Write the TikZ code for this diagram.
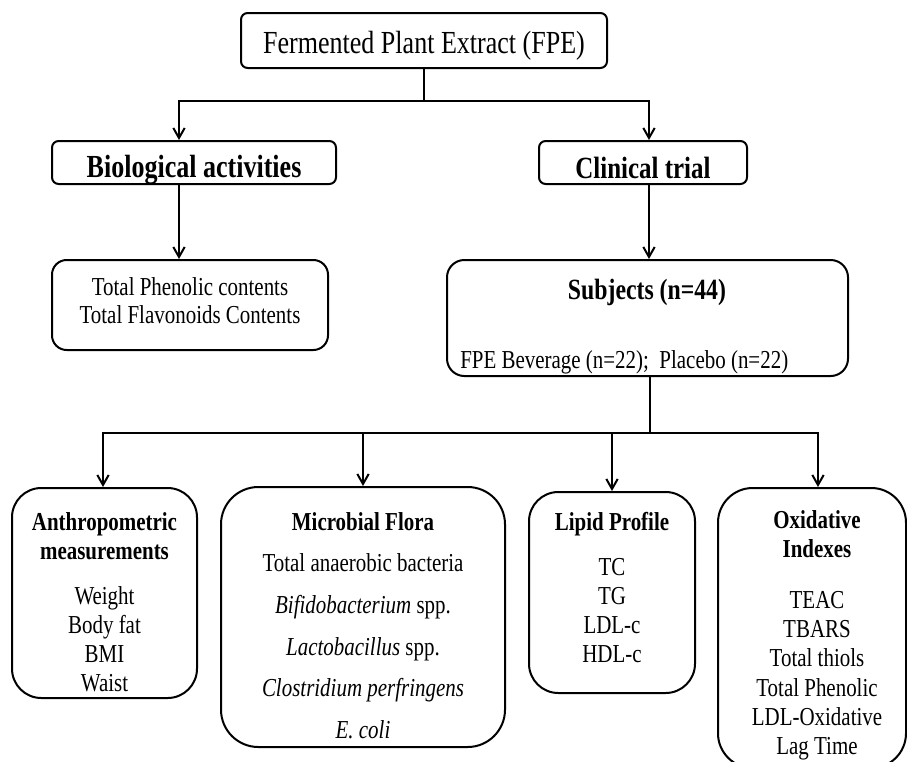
\documentclass[tikz,border=0pt]{standalone}
\usepackage{fontspec}
\setmainfont{Liberation Serif}[FakeStretch=0.81]
\usetikzlibrary{arrows.meta,fit}

\begin{document}
\begin{tikzpicture}[x=0.75pt,y=-0.75pt]
  \tikzset{BoxStyle/.style = {
    draw          = black,
    line width    = 1.5pt,
    inner sep     = 0pt
    }
  }
  \tikzset{TextStyle/.style = {
    inner sep     = 0pt,
    align         = center,
    text          = black,
    font          = {\fontsize{19.4pt}{21.75pt}\selectfont}
    }
  }
  \tikzset{EdgeStyle/.style = {
    draw          = black,
    line width    = 1.5pt
    }
  }
  \tikzset{ArrowStyle/.style = {
    EdgeStyle,
    -{Straight Barb[length=7.5pt,width=8.5pt]}
    }
  }

  \useasboundingbox (0,0) rectangle (907,761);

  % boxes
  \node[BoxStyle, rounded corners=5pt,  fit={(241,13) (607,68)}]   (fpe) {};
  \node[BoxStyle, rounded corners=5pt,  fit={(52,141) (336,184)}]  (bio) {};
  \node[BoxStyle, rounded corners=5pt,  fit={(539,141) (747,184)}] (clin) {};
  \node[BoxStyle, rounded corners=11pt, fit={(52,260) (328,350)}]  (tpc) {};
  \node[BoxStyle, rounded corners=13pt, fit={(447,260) (848,376)}] (subj) {};
  \node[BoxStyle, rounded corners=22pt, fit={(12,488) (197,698)}]  (anthro) {};
  \node[BoxStyle, rounded corners=28pt, fit={(221,487) (505,747)}] (micro) {};
  \node[BoxStyle, rounded corners=22pt, fit={(529,492) (695,693)}] (lipid) {};
  \node[BoxStyle, rounded corners=26pt, fit={(718,488) (906,768)}] (oxid) {};

  % texts
  \node[TextStyle, anchor=base, font=\fontsize{24.1pt}{28pt}\selectfont] (fpeT) at (424,53) {Fermented Plant Extract (FPE)};
  \node[TextStyle, anchor=base, font=\bfseries\fontsize{24.1pt}{28pt}\selectfont] (bioT) at (194,177) {Biological activities};
  \node[TextStyle, anchor=base, font=\bfseries\fontsize{23.1pt}{27pt}\selectfont] (clinT) at (643,178) {Clinical trial};
  \node[TextStyle, anchor=north, font=\fontsize{19.4pt}{21pt}\selectfont] (tpcT) at (190,277) {Total Phenolic contents\\Total Flavonoids Contents};
  \node[TextStyle, anchor=base, font=\bfseries\fontsize{22pt}{26pt}\selectfont] (subjT) at (647,299) {Subjects (n=44)};
  \node[TextStyle, anchor=base west] (subjG) at (460,368) {FPE Beverage (n=22);\ \ Placebo (n=22)};
  \node[TextStyle, anchor=north] (anthroT) at (104.5,512) {\textbf{Anthropometric}\\\textbf{measurements}\\[12pt]Weight\\Body fat\\BMI\\Waist};
  \node[TextStyle, anchor=north, font=\fontsize{19.4pt}{31.2pt}\selectfont] (microT) at (363,512) {\textbf{Microbial Flora}\\Total anaerobic bacteria\\\textit{Bifidobacterium} spp.\\\textit{Lactobacillus} spp.\\\textit{Clostridium perfringens}\\\textit{E. coli}};
  \node[TextStyle, anchor=north] (lipidT) at (612,512) {\textbf{Lipid Profile}\\[12pt]TC\\TG\\LDL-c\\HDL-c};
  \node[TextStyle, anchor=north, font=\fontsize{19.4pt}{22pt}\selectfont] (oxidT) at (817,510) {\textbf{Oxidative}\\\textbf{Indexes}\\[16pt]TEAC\\TBARS\\Total thiols\\Total Phenolic\\LDL-Oxidative\\Lag Time};

  % connectors
  \coordinate (jb) at (179,101);
  \coordinate (jc) at (649,101);
  \draw[ArrowStyle] (fpe.south) |- (jb) -- (jb |- bio.north);
  \draw[ArrowStyle] (fpe.south) |- (jc) -- (jc |- clin.north);
  \draw[ArrowStyle] (jb |- bio.south) -- (jb |- tpc.north);
  \draw[ArrowStyle] (jc |- clin.south) -- (jc |- subj.north);

  \coordinate (bus) at (650,433);
  \coordinate (kA) at (103,433);
  \coordinate (kM) at (363,433);
  \coordinate (kL) at (612,433);
  \coordinate (kO) at (818,433);
  \draw[EdgeStyle, line width=1.1pt] (bus |- subj.south) -- (bus);
  \draw[ArrowStyle] (bus) -| (kA |- anthro.north);
  \draw[ArrowStyle] (bus) -| (kO |- oxid.north);
  \draw[ArrowStyle] (kM) -- (kM |- micro.north);
  \draw[ArrowStyle] (kL) -- (kL |- lipid.north);

\end{tikzpicture}
\end{document}
